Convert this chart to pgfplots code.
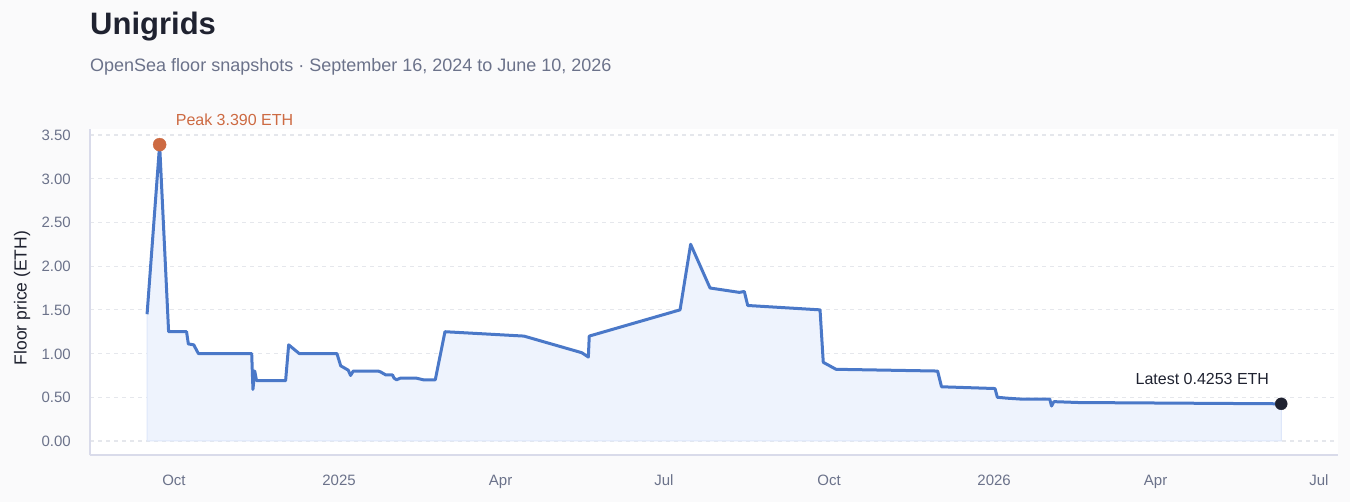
\documentclass[border=0pt]{standalone}
\usepackage{fontspec}
\setmainfont{Liberation Sans}
\usepackage{pgfplots}
\pgfplotsset{compat=1.18}
\usepackage{pgfplotstable}
\definecolor{pagebg}{RGB}{250,250,251}
\definecolor{titlecol}{RGB}{31,34,48}
\definecolor{subcol}{RGB}{107,114,138}
\definecolor{axiscol}{RGB}{217,219,234}
\definecolor{gridcol}{RGB}{229,231,236}
\definecolor{linecol}{RGB}{74,120,200}
\definecolor{fillcol}{RGB}{238,243,253}
\definecolor{filledge}{RGB}{222,231,250}
\definecolor{peakcol}{RGB}{205,106,66}
\definecolor{lastcol}{RGB}{31,34,48}

% day = days since Oct 1, 2024 ; v = floor price (ETH)
\pgfplotstableread{
d v
-15 1.45
-8 3.39
-3 1.25
7 1.25
8 1.11
11 1.10
13.6 1.00
43.3 1.00
44 0.59
45 0.80
46 0.69
62.2 0.69
63.9 1.10
69.8 1.00
90.8 1.00
92.9 0.86
97.1 0.81
98.4 0.75
99.9 0.80
113.8 0.80
115.1 0.79
118.1 0.755
121.8 0.755
122.6 0.72
124 0.70
126.3 0.72
134.8 0.72
138.9 0.70
145.6 0.70
151 1.25
195 1.20
227.2 1.01
230.9 0.96
231.4 1.20
282 1.50
287.9 2.25
298.7 1.75
315 1.70
317.8 1.71
319.7 1.55
360 1.50
361.8 0.90
368.9 0.82
425.5 0.80
427.7 0.62
457.5 0.60
458.8 0.50
464 0.49
471.4 0.48
488 0.48
489 0.40
490.3 0.45
504 0.44
617 0.4253
}\floordata

\begin{document}
\begin{tikzpicture}
\path[fill=pagebg, use as bounding box] (0pt,0pt) rectangle (1350pt,502pt);
\node[anchor=base west, inner sep=0pt, text=titlecol, font=\fontsize{31}{36}\selectfont\bfseries] at (90pt,467pt) {Unigrids};
\node[anchor=base west, inner sep=0pt, text=subcol, font=\fontsize{18}{21}\selectfont] at (90pt,430pt) {OpenSea floor snapshots · September 16, 2024 to June 10, 2026};
\node[anchor=base, rotate=90, inner sep=0pt, text=titlecol, font=\fontsize{17.5}{20}\selectfont] at (26.5pt,204pt) {Floor price (ETH)};
\begin{axis}[
  at={(90pt,46.5pt)}, anchor=south west,
  scale only axis, width=1248pt, height=326.5pt,
  xmin=-46.8, xmax=648.6,
  ymin=-0.166, ymax=3.569,
  axis background/.style={fill=white},
  axis x line=bottom, axis y line=left,
  axis line style={-, draw=axiscol, line width=2pt},
  xtick={0,92,182,273,365,457,547,638},
  xticklabels={Oct,2025,Apr,Jul,Oct,2026,Apr,Jul},
  ytick={0,0.5,1,1.5,2,2.5,3,3.5},
  major tick length=0pt,
  ymajorgrids,
  grid style={draw=gridcol, line width=1.2pt, dash pattern=on 4pt off 4pt},
  tick label style={text=subcol, font=\fontsize{15}{18}\selectfont, inner sep=0pt, text height=11pt, text depth=0pt},
  xticklabel style={anchor=north, yshift=-19pt},
  yticklabel style={anchor=east, xshift=-19pt, /pgf/number format/.cd, fixed, fixed zerofill, precision=2, assume math mode=true},
  clip=false,
]
\addplot[fill=fillcol, draw=filledge, line width=1pt] table[x=d,y=v] {\floordata} \closedcycle;
\addplot[draw=linecol, line width=3pt, line join=round] table[x=d,y=v] {\floordata};
\addplot[only marks, mark=*, mark size=6.5pt, mark options={fill=peakcol, draw=peakcol}] coordinates {(-8,3.39)};
\addplot[only marks, mark=*, mark size=6pt, mark options={fill=lastcol, draw=lastcol}] coordinates {(617,0.4253)};
\node[anchor=base west, inner sep=0pt, text=peakcol, font=\fontsize{16}{19}\selectfont, xshift=16pt, yshift=19.5pt] at (axis cs:-8,3.39) {Peak 3.390 ETH};
\node[anchor=base east, inner sep=0pt, text=lastcol, font=\fontsize{16}{19}\selectfont, xshift=-12pt, yshift=19.3pt] at (axis cs:617,0.4253) {Latest 0.4253 ETH};
\end{axis}
\end{tikzpicture}
\end{document}
